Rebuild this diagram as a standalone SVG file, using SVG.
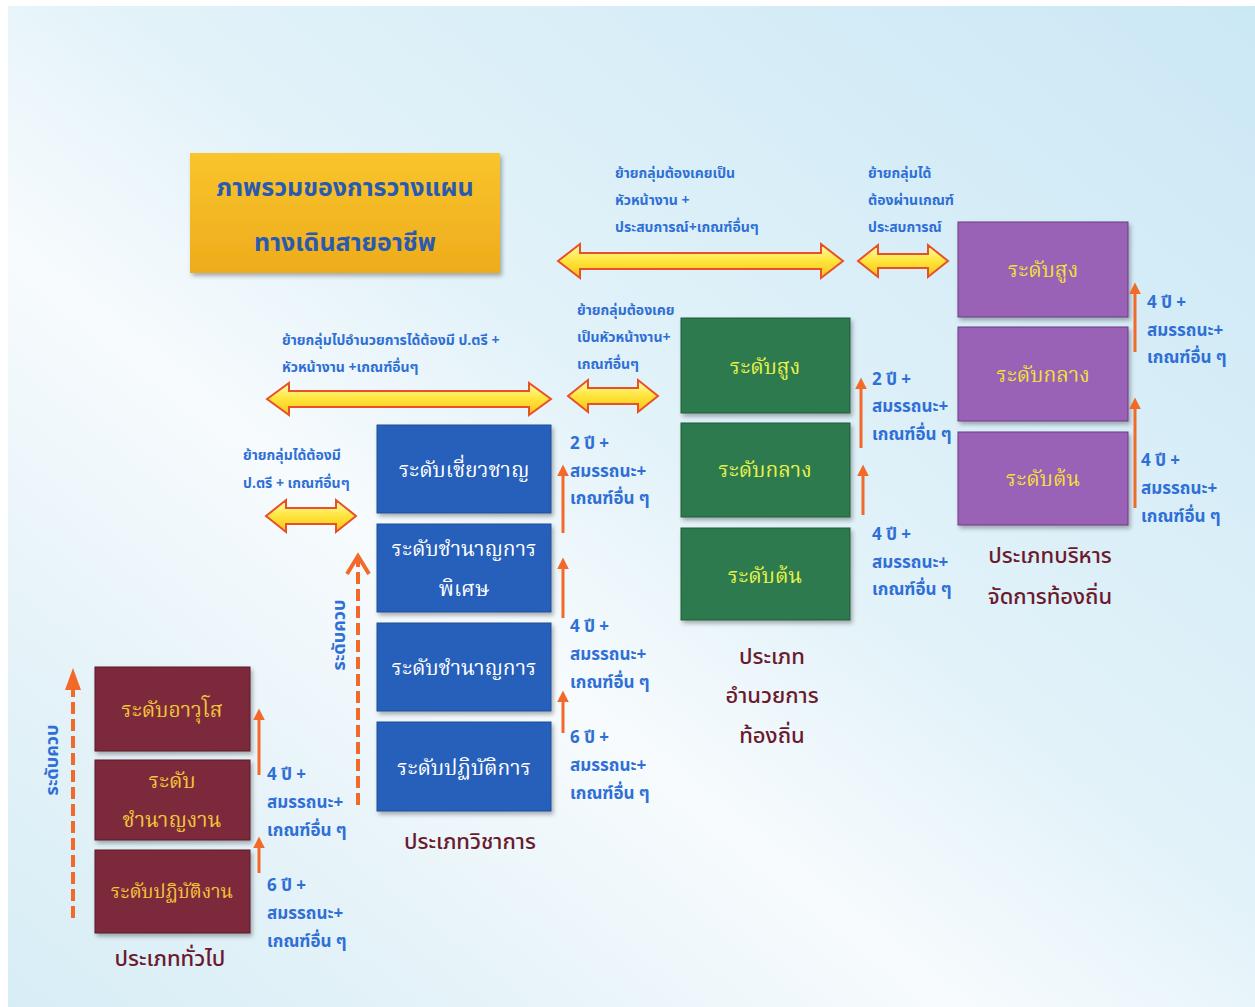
<svg xmlns="http://www.w3.org/2000/svg" width="1255" height="1007" viewBox="0 0 1255 1007">
<defs>
<linearGradient id="bg" x1="1" y1="0" x2="0" y2="1">
<stop offset="0" stop-color="#cbe8f5"/>
<stop offset="0.45" stop-color="#e2f2f9"/>
<stop offset="0.62" stop-color="#f7fbfd"/>
<stop offset="0.8" stop-color="#e6f3f9"/>
<stop offset="1" stop-color="#d7edf6"/>
</linearGradient>
<linearGradient id="gold" x1="0" y1="0" x2="0" y2="1">
<stop offset="0" stop-color="#f9c52c"/>
<stop offset="1" stop-color="#eeac1c"/>
</linearGradient>
<linearGradient id="dbl" x1="0" y1="0" x2="0" y2="1">
<stop offset="0" stop-color="#fffbb0"/>
<stop offset="0.5" stop-color="#ffe53a"/>
<stop offset="1" stop-color="#f7c21a"/>
</linearGradient>
<filter id="sh" x="-10%" y="-10%" width="125%" height="130%">
<feDropShadow dx="2" dy="3" stdDeviation="2" flood-color="#000" flood-opacity="0.3"/>
</filter>
<marker id="ah" viewBox="0 0 10 10" refX="2" refY="5" markerWidth="4" markerHeight="4" orient="auto" markerUnits="strokeWidth">
<path d="M0,0 L10,5 L0,10 Z" fill="#f26a2a"/>
</marker>
<marker id="ahf" viewBox="0 0 10 10" refX="2" refY="5" markerWidth="4" markerHeight="4" orient="auto" markerUnits="strokeWidth">
<path d="M0,0 L10,5 L0,10 Z" fill="#f26a2a"/>
</marker>
<marker id="ahd" viewBox="0 0 10 10" refX="8" refY="5" markerWidth="4" markerHeight="5" orient="auto" markerUnits="strokeWidth">
<path d="M1,0.5 L8,5 L1,9.5" fill="none" stroke="#f26a2a" stroke-width="2"/>
</marker>
<style>
.lbl{font-family:"Noto Sans Thai","Noto Sans","DejaVu Sans",sans-serif;font-weight:bold;font-size:14px;fill:#2f6fd6}
.num{font-family:"Noto Sans Thai","Noto Sans","DejaVu Sans",sans-serif;font-weight:bold;font-size:17px;fill:#2f6fd6}
.box{font-family:"Noto Serif Thai","Noto Sans Thai","Noto Sans","DejaVu Sans",sans-serif;font-size:21px;text-anchor:middle}
.cap{font-family:"Noto Sans Thai","Noto Sans","DejaVu Sans",sans-serif;font-weight:500;font-size:22px;fill:#6b1a2e;text-anchor:middle}
.ttl{font-family:"Noto Sans Thai","Noto Sans","DejaVu Sans",sans-serif;font-weight:bold;font-size:25px;fill:#2a5ab0;text-anchor:middle}
.vert{font-family:"Noto Sans Thai","Noto Sans","DejaVu Sans",sans-serif;font-weight:bold;font-size:18px;fill:#2f6fd6;text-anchor:middle}
.up{stroke:#f26a2a;stroke-width:3;fill:none;marker-end:url(#ah)}
.dash{stroke:#f26a2a;stroke-width:4;fill:none;stroke-dasharray:12,5}
.dbl{fill:url(#dbl);stroke:#e8502a;stroke-width:2;stroke-linejoin:miter}
.brown{fill:#7b2b3b;stroke:#5a1a26;stroke-width:1}
.blue{fill:#2761bb;stroke:#1e4f9a;stroke-width:1}
.green{fill:#2d7a50;stroke:#1f5c3a;stroke-width:1}
.purple{fill:#9a62b6;stroke:#6a3a80;stroke-width:1}
.ty{fill:#f3c53a}
.tw{fill:#ffffff}
.tg{fill:#e6f24a}
.tp{fill:#f4df3c}
</style>
</defs>
<rect x="0" y="0" width="1255" height="1007" fill="#ffffff"/>
<rect x="8" y="6" width="1247" height="1001" fill="url(#bg)"/>

<g id="title">
<rect x="190" y="153" width="310" height="120" fill="url(#gold)" filter="url(#sh)"/>
<text class="ttl" x="345" y="196">ภาพรวมของการวางแผน</text>
<text class="ttl" x="345" y="251">ทางเดินสายอาชีพ</text>
</g>

<g id="general">
<rect class="brown" x="95" y="667" width="155" height="84" filter="url(#sh)"/>
<text class="box ty" x="172" y="717">ระดับอาวุโส</text>
<rect class="brown" x="95" y="760" width="155" height="80" filter="url(#sh)"/>
<text class="box ty" x="172" y="788">ระดับ</text>
<text class="box ty" x="172" y="827">ชำนาญงาน</text>
<rect class="brown" x="95" y="850" width="155" height="83" filter="url(#sh)"/>
<text class="box ty" x="172" y="898" style="font-size:19px">ระดับปฏิบัติงาน</text>
<text class="cap" x="170" y="966">ประเภททั่วไป</text>
</g>

<g id="academic">
<rect class="blue" x="377" y="425" width="174" height="88" filter="url(#sh)"/>
<text class="box tw" x="464" y="477">ระดับเชี่ยวชาญ</text>
<rect class="blue" x="377" y="524" width="174" height="88" filter="url(#sh)"/>
<text class="box tw" x="464" y="556">ระดับชำนาญการ</text>
<text class="box tw" x="464" y="596">พิเศษ</text>
<rect class="blue" x="377" y="623" width="174" height="88" filter="url(#sh)"/>
<text class="box tw" x="464" y="675">ระดับชำนาญการ</text>
<rect class="blue" x="377" y="722" width="174" height="89" filter="url(#sh)"/>
<text class="box tw" x="464" y="775">ระดับปฏิบัติการ</text>
<text class="cap" x="470" y="849">ประเภทวิชาการ</text>
</g>

<g id="director">
<rect class="green" x="681" y="318" width="169" height="95" filter="url(#sh)"/>
<text class="box tg" x="765" y="374">ระดับสูง</text>
<rect class="green" x="681" y="423" width="169" height="94" filter="url(#sh)"/>
<text class="box tg" x="765" y="477">ระดับกลาง</text>
<rect class="green" x="681" y="528" width="169" height="92" filter="url(#sh)"/>
<text class="box tg" x="765" y="583">ระดับต้น</text>
<text class="cap" x="772" y="664">ประเภท</text>
<text class="cap" x="772" y="703">อำนวยการ</text>
<text class="cap" x="772" y="743">ท้องถิ่น</text>
</g>

<g id="executive">
<rect class="purple" x="958" y="222" width="170" height="95" filter="url(#sh)"/>
<text class="box tp" x="1043" y="277">ระดับสูง</text>
<rect class="purple" x="958" y="327" width="170" height="94" filter="url(#sh)"/>
<text class="box tp" x="1043" y="382">ระดับกลาง</text>
<rect class="purple" x="958" y="432" width="170" height="93" filter="url(#sh)"/>
<text class="box tp" x="1043" y="486">ระดับต้น</text>
<text class="cap" x="1050" y="563">ประเภทบริหาร</text>
<text class="cap" x="1050" y="604">จัดการท้องถิ่น</text>
</g>

<g id="connectors">
<polygon class="dbl" points="558,261 580,244 580,253 821,253 821,244 843,261 821,278 821,269 580,269 580,278"/>
<polygon class="dbl" points="858,261 878,245 878,254 928,254 928,245 948,261 928,277 928,268 878,268 878,277"/>
<polygon class="dbl" points="267,399 289,383 289,391 529,391 529,383 551,399 529,415 529,407 289,407 289,415"/>
<polygon class="dbl" points="568,396 588,380 588,388 638,388 638,380 658,396 638,412 638,404 588,404 588,412"/>
<polygon class="dbl" points="266,516 286,500 286,508 336,508 336,500 356,516 336,532 336,524 286,524 286,532"/>
<line class="up" x1="259" y1="775" x2="259" y2="718"/>
<line class="up" x1="259" y1="873" x2="259" y2="846"/>
<line class="up" x1="563" y1="533" x2="563" y2="474"/>
<line class="up" x1="563" y1="618" x2="563" y2="567"/>
<line class="up" x1="563" y1="733" x2="563" y2="700"/>
<line class="up" x1="861" y1="448" x2="861" y2="387"/>
<line class="up" x1="863" y1="515" x2="863" y2="474"/>
<line class="up" x1="1135" y1="352" x2="1135" y2="292"/>
<line class="up" x1="1135" y1="508" x2="1135" y2="407"/>
<line class="dash" x1="73" y1="918" x2="73" y2="690"/>
<polygon points="65,690 81,690 73,668" fill="#f26a2a"/>
<line class="dash" x1="358" y1="805" x2="358" y2="560"/>
<polyline points="347,574 358,556 369,574" fill="none" stroke="#f26a2a" stroke-width="4"/>
</g>

<g id="labels">
<text class="lbl" x="615" y="178">ย้ายกลุ่มต้องเคยเป็น</text>
<text class="lbl" x="615" y="205">หัวหน้างาน +</text>
<text class="lbl" x="615" y="232">ประสบการณ์+เกณฑ์อื่นๆ</text>
<text class="lbl" x="868" y="178">ย้ายกลุ่มได้</text>
<text class="lbl" x="868" y="205">ต้องผ่านเกณฑ์</text>
<text class="lbl" x="868" y="232">ประสบการณ์</text>
<text class="lbl" x="577" y="315">ย้ายกลุ่มต้องเคย</text>
<text class="lbl" x="577" y="342">เป็นหัวหน้างาน+</text>
<text class="lbl" x="577" y="369">เกณฑ์อื่นๆ</text>
<text class="lbl" x="282" y="345">ย้ายกลุ่มไปอำนวยการได้ต้องมี ป.ตรี +</text>
<text class="lbl" x="282" y="372">หัวหน้างาน +เกณฑ์อื่นๆ</text>
<text class="lbl" x="243" y="460">ย้ายกลุ่มได้ต้องมี</text>
<text class="lbl" x="243" y="488">ป.ตรี + เกณฑ์อื่นๆ</text>

<text class="num" x="267" y="780">4 ปี +</text>
<text class="num" x="267" y="808">สมรรถนะ+</text>
<text class="num" x="267" y="836">เกณฑ์อื่น ๆ</text>
<text class="num" x="267" y="891">6 ปี +</text>
<text class="num" x="267" y="919">สมรรถนะ+</text>
<text class="num" x="267" y="947">เกณฑ์อื่น ๆ</text>

<text class="num" x="570" y="449">2 ปี +</text>
<text class="num" x="570" y="477">สมรรถนะ+</text>
<text class="num" x="570" y="504">เกณฑ์อื่น ๆ</text>
<text class="num" x="570" y="632">4 ปี +</text>
<text class="num" x="570" y="660">สมรรถนะ+</text>
<text class="num" x="570" y="688">เกณฑ์อื่น ๆ</text>
<text class="num" x="570" y="743">6 ปี +</text>
<text class="num" x="570" y="771">สมรรถนะ+</text>
<text class="num" x="570" y="799">เกณฑ์อื่น ๆ</text>

<text class="num" x="872" y="385">2 ปี +</text>
<text class="num" x="872" y="412">สมรรถนะ+</text>
<text class="num" x="872" y="440">เกณฑ์อื่น ๆ</text>
<text class="num" x="872" y="540">4 ปี +</text>
<text class="num" x="872" y="568">สมรรถนะ+</text>
<text class="num" x="872" y="595">เกณฑ์อื่น ๆ</text>

<text class="num" x="1147" y="308">4 ปี +</text>
<text class="num" x="1147" y="336">สมรรถนะ+</text>
<text class="num" x="1147" y="363">เกณฑ์อื่น ๆ</text>
<text class="num" x="1141" y="466">4 ปี +</text>
<text class="num" x="1141" y="494">สมรรถนะ+</text>
<text class="num" x="1141" y="522">เกณฑ์อื่น ๆ</text>

<text class="vert" transform="translate(58,760) rotate(-90)">ระดับควบ</text>
<text class="vert" transform="translate(345,635) rotate(-90)">ระดับควบ</text>
</g>
</svg>
